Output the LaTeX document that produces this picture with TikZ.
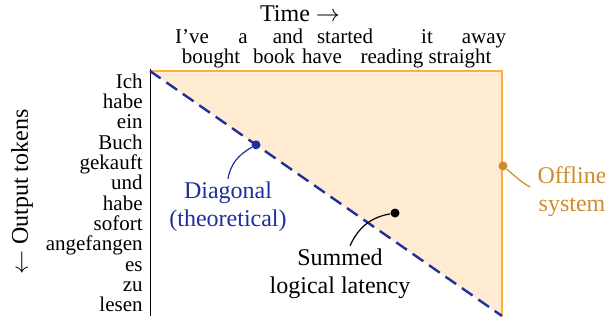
\documentclass[tikz,border=0pt]{standalone}
\usepackage{fontspec}
\setmainfont{Liberation Serif}
\definecolor{offlinefill}{HTML}{FFEBD1}
\definecolor{offlineline}{HTML}{FBB040}
\definecolor{offlinetext}{HTML}{D08C28}
\definecolor{diagblue}{HTML}{1F2F9C}
\tikzset{
    token/.style={inner sep=0, font=\fontsize{10.5}{12}\selectfont},
    srctoken/.style={token, anchor=base},
    tgttoken/.style={token, anchor=base east},
    biglabel/.style={inner sep=0, align=center, font=\fontsize{12}{14}\selectfont},
    callout/.style={line width=0.6pt},
    calloutdot/.style={circle, fill, inner sep=0, minimum size=4.5pt}
}
\begin{document}
\begin{tikzpicture}[x=0.5pt,y=-0.5pt]
    \useasboundingbox (0,0) rectangle (605,321);
    \pgfmathsetmacro{\gridleft}{150}
    \pgfmathsetmacro{\gridright}{502}
    \pgfmathsetmacro{\gridtop}{71}
    \pgfmathsetmacro{\gridbottom}{316}
    \coordinate (tl) at (\gridleft,\gridtop);
    \coordinate (tr) at (\gridright,\gridtop);
    \coordinate (br) at (\gridright,\gridbottom);
    % offline system area
    \fill[offlinefill] (tl) -- (tr) -- (br) -- cycle;
    \draw[offlineline, line width=1.4pt, line join=miter] (tl) -- (tr) -- (br);
    \draw[line width=0.5pt] (\gridleft,69) -- (\gridleft,\gridbottom);
    \draw[diagblue, line width=1.2pt, dash pattern=on 6.5pt off 3.5pt] (tl) -- (br);
    % axis titles
    \node[biglabel, anchor=base, text height=8.5pt] (time) at (300,21) {Time $\rightarrow$};
    \node[biglabel, rotate=90] (output) at (22,192) {$\leftarrow$ Output tokens};
    % source words, alternating rows
    \foreach \word/\x/\y in {I've/192/43, bought/211/63, a/243/43, book/274/63,
        and/288/43, have/322/63, started/345/43, reading/392/63, it/427/43,
        straight/460/63, away/484/43}
        \node[srctoken] (src-\word) at (\x,\y) {\word};
    % target words
    \foreach \word [count=\i] in {Ich,habe,ein,Buch,gekauft,und,habe,sofort,angefangen,es,zu,lesen}
        \node[tgttoken] (tgt-\i) at (143,{88+(\i-1)*20.35}) {\word};
    % callouts
    \node[biglabel, text=diagblue] (diag) at (228,207) {Diagonal\\(theoretical)};
    \node[calloutdot, diagblue] (diagdot) at (256,144.8) {};
    \draw[callout, diagblue] (diag.north) ++(0,-3) to[out=80,in=210] (diagdot);
    \node[biglabel] (summed) at (340,274) {Summed\\logical latency};
    \node[calloutdot] (summeddot) at (395,213) {};
    \draw[callout] (summed.north) ++(10,-3) to[out=65,in=190] (summeddot);
    \node[biglabel, text=offlinetext] (offline) at (572,192) {Offline\\system};
    \node[calloutdot, offlinetext] (offlinedot) at (503,166) {};
    \draw[callout, offlinetext] (offlinedot) to[out=-40,in=150] (530,187);
\end{tikzpicture}
\end{document}
